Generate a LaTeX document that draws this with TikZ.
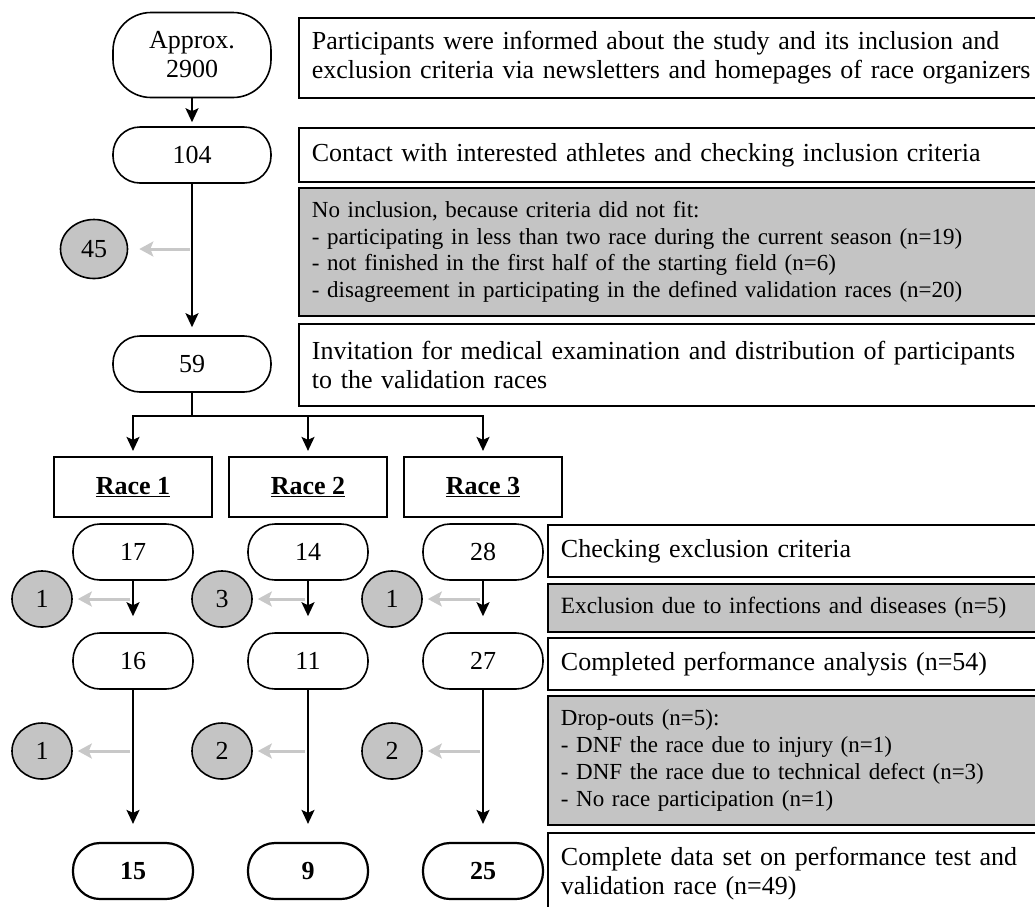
\documentclass[tikz,border=0pt]{standalone}
\usepackage{fontspec}
\setmainfont{Liberation Serif}
\usetikzlibrary{arrows.meta,shapes.geometric}
\definecolor{boxgrey}{HTML}{C4C4C4}
\definecolor{arrgrey}{HTML}{C8C8C8}
\newcommand\fsA{\fontsize{26}{29}\selectfont}
\newcommand\fsB{\fontsize{23}{27}\selectfont}
\newcommand\fsC{\fontsize{23}{26.7}\selectfont}
\tikzset{
 numnode/.style={draw, line width=1.6pt, rounded corners=27pt, minimum width=158pt, minimum height=56pt, inner sep=0pt, align=center, font=\fsA},
 subnode/.style={numnode, minimum width=120pt},
 endnode/.style={subnode, line width=2.2pt, font=\fsA\bfseries},
 racebox/.style={draw, line width=2.2pt, minimum width=158pt, minimum height=60pt, inner sep=0pt, font=\fsA\bfseries},
 dropdot/.style={ellipse, draw, line width=1.6pt, fill=boxgrey, minimum width=60pt, minimum height=56pt, inner sep=0pt, font=\fsA},
 infobox/.style={draw, line width=1.8pt, anchor=north west, inner xsep=13pt, inner ysep=0pt, text width=760pt, align=left, font=\fsA},
 greybox/.style={infobox, fill=boxgrey, font=\fsB},
 arr/.style={line width=2pt, -{Stealth[length=14pt,width=13pt,inset=3pt]}},
 garr/.style={draw=arrgrey, line width=3pt, -{Stealth[length=14pt,width=15pt,inset=3pt]}},
 plain/.style={line width=2pt}
}
\begin{document}
\begin{tikzpicture}[x=1pt,y=-1pt]
\useasboundingbox (0,0) rectangle (1035,906);
\clip (0,0) rectangle (1035,906);
% right-hand description boxes
\node[infobox, minimum height=80pt] (tA) at (298,17) {Participants were informed about the study and its inclusion and\\exclusion criteria via newsletters and homepages of race organizers};
\node[infobox, minimum height=54pt] (tB) at (298,127) {Contact with interested athletes and checking inclusion criteria};
\node[greybox, minimum height=128pt, font=\fsC] (tC) at (298,187) {No inclusion, because criteria did not fit:\\- participating in less than two race during the current season (n=19)\\- not finished in the first half of the starting field (n=6)\\- disagreement in participating in the defined validation races (n=20)};
\node[infobox, minimum height=82pt] (tD) at (298,323) {Invitation for medical examination and distribution of participants\\to the validation races};
\node[infobox, minimum height=52pt] (tE) at (547,524) {Checking exclusion criteria};
\node[greybox, minimum height=48pt, font=\fontsize{23.3}{27}\selectfont] (tF) at (547,583) {Exclusion due to infections and diseases (n=5)};
\node[infobox, minimum height=52pt] (tG) at (547,637) {Completed performance analysis (n=54)};
\node[greybox, minimum height=129pt] (tH) at (547,695) {Drop-outs (n=5):\\- DNF the race due to injury (n=1)\\- DNF the race due to technical defect (n=3)\\- No race participation (n=1)};
\node[infobox, minimum height=82pt] (tI) at (547,832) {Complete data set on performance test and\\validation race (n=49)};
% main column
\node[numnode, minimum height=85pt, rounded corners=38pt] (n0) at (192,55) {Approx.\\2900};
\node[numnode] (n1) at (192,155) {104};
\node[numnode] (n2) at (192,364) {59};
\node[dropdot, minimum width=67pt, minimum height=59pt] (d0) at (94,249) {45};
\coordinate (g0) at (190,249);
\coordinate (br) at (192,416);
% races
\foreach \i/\x/\a/\b/\c in {1/133/17/16/15, 2/308/14/11/9, 3/483/28/27/25}{
  \node[racebox] (r\i) at (\x,487) {\underline{Race \i}};
  \node[subnode] (s\i) at (\x,552) {\a};
  \node[subnode] (m\i) at (\x,661) {\b};
  \node[endnode] (e\i) at (\x,871) {\c};
  \coordinate (ga\i) at (\x-3,599);
  \coordinate (gb\i) at (\x-3,751);
}
\node[dropdot] (da1) at (42,599) {1};
\node[dropdot] (da2) at (222,599) {3};
\node[dropdot] (da3) at (392,599) {1};
\node[dropdot] (db1) at (42,751) {1};
\node[dropdot] (db2) at (222,751) {2};
\node[dropdot] (db3) at (392,751) {2};
% connectors
\draw[arr, shorten >=4pt] (n0.south) -- (n1.north);
\draw[arr, shorten >=8pt] (n1.south) -- (n2.north);
\draw[garr, shorten >=11pt] (g0) -- (d0.east);
\draw[plain] (n2.south) -- (br);
\foreach \i in {1,2,3}{
  \draw[arr, shorten >=5pt] (br) -| (r\i.north);
  \draw[arr, shorten >=16pt] (s\i.south) -- (m\i.north);
  \draw[arr, shorten >=18pt] (m\i.south) -- (e\i.north);
  \draw[garr, shorten >=5pt] (ga\i) -- (da\i.east);
  \draw[garr, shorten >=5pt] (gb\i) -- (db\i.east);
}
\end{tikzpicture}
\end{document}
